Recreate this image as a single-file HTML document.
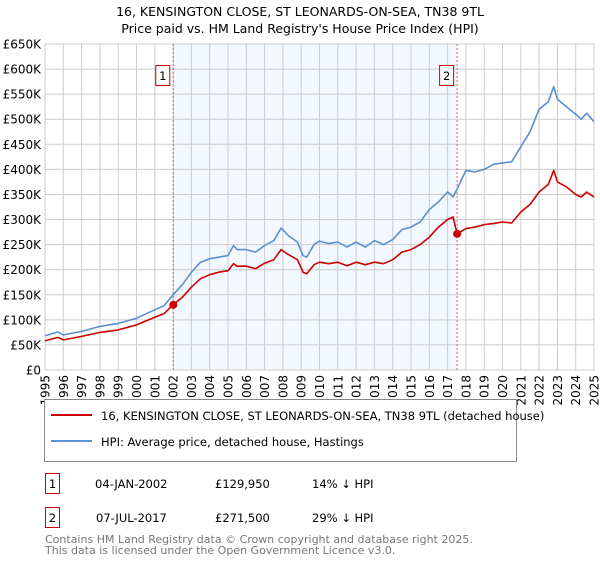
<!DOCTYPE html>
<html><head><meta charset="utf-8"><style>
body{margin:0;background:#fff;font-family:"DejaVu Sans","Liberation Sans",sans-serif;}
svg text{font-family:"DejaVu Sans","Liberation Sans",sans-serif;}
</style></head><body>
<svg width="600" height="560" xmlns="http://www.w3.org/2000/svg">
<text x="300" y="16" text-anchor="middle" font-size="12.5" fill="#000">16, KENSINGTON CLOSE, ST LEONARDS-ON-SEA, TN38 9TL</text>
<text x="300" y="33" text-anchor="middle" font-size="12.5" fill="#000">Price paid vs. HM Land Registry's House Price Index (HPI)</text>
<g id="plot"></g>
<g>
<rect x="44.5" y="399.5" width="472" height="62" fill="#fff" stroke="#888"/>
<line x1="51" y1="415" x2="92" y2="415" stroke="#cc0000" stroke-width="2"/>
<text x="101" y="420" font-size="11.5">16, KENSINGTON CLOSE, ST LEONARDS-ON-SEA, TN38 9TL (detached house)</text>
<line x1="51" y1="441" x2="92" y2="441" stroke="#5b8fd0" stroke-width="2"/>
<text x="101" y="446" font-size="11.5">HPI: Average price, detached house, Hastings</text>
</g>
<g font-size="11.5">
<rect x="45.5" y="473.5" width="14" height="20" fill="#fff" stroke="#cc0000"/>
<text x="52.5" y="488" text-anchor="middle">1</text>
<text x="95" y="488">04-JAN-2002</text><text x="215" y="488">£129,950</text><text x="312" y="488">14% ↓ HPI</text>
<rect x="45.5" y="507.5" width="14" height="20" fill="#fff" stroke="#cc0000"/>
<text x="52.5" y="522" text-anchor="middle">2</text>
<text x="96" y="522">07-JUL-2017</text><text x="215" y="522">£271,500</text><text x="312" y="522">29% ↓ HPI</text>
</g>
<text x="45" y="543" font-size="11" fill="#777">Contains HM Land Registry data © Crown copyright and database right 2025.</text>
<text x="45" y="554" font-size="11" fill="#777">This data is licensed under the Open Government Licence v3.0.</text>
</svg>
<script>
const hpiYears=[1995,1995.7,1996,1997,1998,1999,2000,2001,2001.5,2002,2002.5,2003,2003.5,2004,2004.5,2005,2005.3,2005.5,2006,2006.5,2007,2007.5,2007.9,2008.3,2008.8,2009.1,2009.3,2009.7,2010,2010.5,2011,2011.5,2012,2012.5,2013,2013.5,2014,2014.5,2015,2015.5,2016,2016.5,2017,2017.3,2017.6,2018,2018.5,2019,2019.5,2020,2020.5,2021,2021.5,2022,2022.5,2022.8,2023,2023.5,2024,2024.3,2024.6,2025];
const hpiValues=[68,76,70,77,87,93,103,120,128,150,170,195,215,222,225,228,248,240,240,235,248,258,283,268,255,228,225,250,257,252,255,245,255,245,258,250,260,280,285,295,320,335,355,345,367,398,395,400,410,413,415,445,475,520,535,565,540,525,510,500,512,495];
const priceYears=[1995,1995.7,1996,1997,1998,1999,2000,2001,2001.5,2002,2002.5,2003,2003.5,2004,2004.5,2005,2005.3,2005.5,2006,2006.5,2007,2007.5,2007.9,2008.3,2008.8,2009.1,2009.3,2009.7,2010,2010.5,2011,2011.5,2012,2012.5,2013,2013.5,2014,2014.5,2015,2015.5,2016,2016.5,2017,2017.3,2017.52,2018,2018.5,2019,2019.5,2020,2020.5,2021,2021.5,2022,2022.5,2022.8,2023,2023.5,2024,2024.3,2024.6,2025];
const priceValues=[58,65,60,67,75,80,90,105,112,130,145,165,182,190,195,198,212,207,207,202,213,220,240,230,220,195,192,210,215,212,215,208,215,210,215,212,220,235,240,250,265,285,300,305,271.5,282,285,290,292,295,293,315,330,355,370,398,375,365,350,345,355,345];
const saleYears=[2002.01,2017.52];
const saleValues=[129.95,271.5];
const saleLabels=["1","2"];
const yTicks=[0,50,100,150,200,250,300,350,400,450,500,550,600,650];
const yTickLabels=["£0","£50K","£100K","£150K","£200K","£250K","£300K","£350K","£400K","£450K","£500K","£550K","£600K","£650K"];
const xTicks=[1995,1996,1997,1998,1999,2000,2001,2002,2003,2004,2005,2006,2007,2008,2009,2010,2011,2012,2013,2014,2015,2016,2017,2018,2019,2020,2021,2022,2023,2024,2025];

const X0=45,X1=594,Y0=370,Y1=44;
const xs=y=>X0+(y-1995)/30*(X1-X0);
const ys=v=>Y0-v/650*(Y0-Y1);
const NS="http://www.w3.org/2000/svg";
const g=document.getElementById('plot');
function mk(t,a,p){const e=document.createElementNS(NS,t);for(const k in a)e.setAttribute(k,a[k]);(p||g).appendChild(e);return e;}
const shade=mk('rect',{x:xs(saleYears[0]),y:Y1,width:xs(saleYears[1])-xs(saleYears[0]),height:Y0-Y1,fill:'#eef3fd',opacity:0.7});


yTicks.forEach((v,i)=>{
 const l=mk('line',{x1:X0,x2:X1,y1:ys(v),y2:ys(v),stroke:'#cccccc','stroke-width':1});
 
 
 const t=mk('text',{x:41,y:ys(v)+4.5,'text-anchor':'end','font-size':12});
 t.textContent=yTickLabels[i];
 
 
});
xTicks.forEach(y=>{
 const l=mk('line',{x1:xs(y),x2:xs(y),y1:Y1,y2:Y0,stroke:'#cccccc','stroke-width':1});
 
 
 const t=mk('text',{x:0,y:0,'text-anchor':'end','font-size':12,transform:`translate(${xs(y)+4.5},${Y0+5}) rotate(-90)`});
 t.textContent=y;
 
 
});
const frame=mk('rect',{x:X0,y:Y1,width:X1-X0,height:Y0-Y1,fill:'none',stroke:'#cccccc'});


saleYears.forEach((y,i)=>{
 const l=mk('line',{x1:xs(y),x2:xs(y),y1:Y1,y2:Y0,stroke:'#e06060','stroke-dasharray':'2,2','stroke-width':1});
 
 
 const b=mk('rect',{x:xs(y)-17.5,y:65.5,width:14,height:20,fill:'#fff',stroke:'#cc0000'});
 
 
 const t=mk('text',{x:xs(y)-10.5,y:80,'text-anchor':'middle','font-size':11.5});
 t.textContent=saleLabels[i];
 
 
});
function path(xa,va,color,name){
 const d=xa.map((x,i)=>(i?'L':'M')+xs(x).toFixed(1)+','+ys(va[i]).toFixed(1)).join('');
 const p=mk('path',{d:d,fill:'none',stroke:color,'stroke-width':1.6,'stroke-linejoin':'round'});
 
 
}
path(hpiYears,hpiValues,'#5b8fd0','hpi-line');
path(priceYears,priceValues,'#cc0000','price-line');
saleYears.forEach((y,i)=>{
 const c=mk('circle',{cx:xs(y),cy:ys(saleValues[i]),r:4,fill:'#cc0000'});
 
 
});
</script>
</body></html>
